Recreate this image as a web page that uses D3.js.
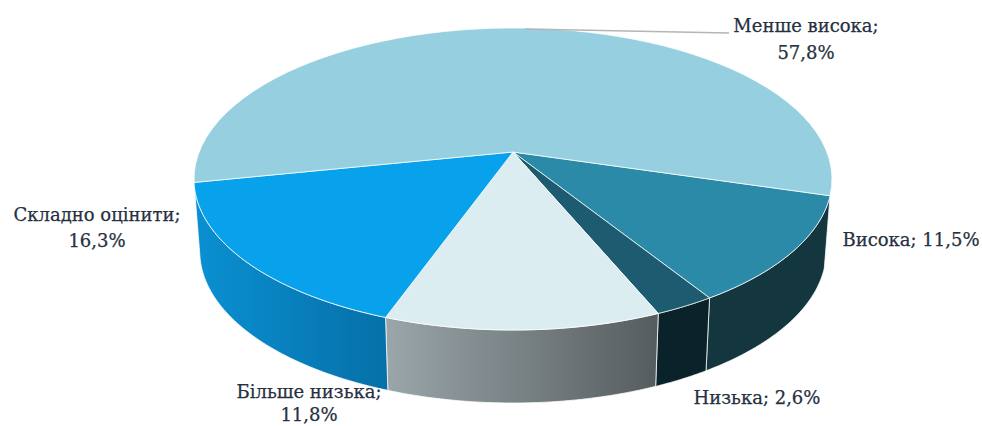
<!DOCTYPE html>
<html><head><meta charset="utf-8">
<script src="https://cdn.jsdelivr.net/npm/d3@7/dist/d3.min.js"></script>
<style>html,body{margin:0;padding:0;background:#fff;overflow:hidden}svg{display:block}
text{font-family:"DejaVu Serif",serif;font-size:18px;fill:#26303f;stroke:#26303f;stroke-width:.25px;text-anchor:middle}</style>
</head><body><svg id="c" width="982" height="426"></svg>
<script>
const categories = ["Висока","Низька","Більше низька","Складно оцінити","Менше висока"];
const values = [11.5,2.6,11.8,16.3,57.8];
const valueLabels = ["11,5%","2,6%","11,8%","16,3%","57,8%"];
const topColors = ["#2b8aa8","#1d5c70","#dcedf2","#08a2ec","#95cfe0"];
const sideFrom = ["#13363f","#0a2229","#565c5e","#0670a8","#95cfe0"];
const sideTo = ["#13363f","#0a2229","#9aa6aa","#0a90d2","#95cfe0"];
const labelLines = [
  [[911,246,"Висока; 11,5%"]],
  [[757,404,"Низька; 2,6%"]],
  [[309,398,"Більше низька;"],[309,421,"11,8%"]],
  [[97,221,"Складно оцінити;"],[97,247,"16,3%"]],
  [[806,32,"Менше висока;"],[806,59,"57,8%"]]
];

const svg = d3.select("#c");
const cx=513, apexY=152, backY=28, frontY=330, rx=319;
// homography: Y=(b+a v)/(1+k v), X=K u/(1+k v)
const b=apexY;
const k=((apexY-backY)-(frontY-apexY))/(frontY-backY);
const a=(apexY-backY)+backY*k;
const K=rx*Math.sqrt(1-k*k);
const depthScale=0.982, depthBase=72, depthGrow=1;
function topPt(t){const u=Math.cos(t),v=Math.sin(t),w=1+k*v;return [cx+K*u/w,(b+a*v)/w];}
function botPt(t){const p=topPt(t),v=Math.sin(t);return [cx+(p[0]-cx)*depthScale,p[1]+depthBase+depthGrow*Math.max(0,v)];}

const startDeg=16.5;
const pie=d3.pie().sort(null).value(d=>d).startAngle(startDeg*Math.PI/180).endAngle((startDeg+360)*Math.PI/180);
const arcs=pie(values);
const line=d3.line();
const samples=(s,e)=>d3.range(0,61).map(i=>s+(e-s)*i/60);

const defs=svg.append("defs");
arcs.forEach((d,i)=>{
  const ps=samples(d.startAngle,d.endAngle).map(topPt);
  const xs=d3.extent(ps,p=>p[0]);
  const g=defs.append("linearGradient").attr("id","g"+i).attr("gradientUnits","userSpaceOnUse")
    .attr("x1",xs[1]).attr("x2",xs[0]).attr("y1",0).attr("y2",0);
  g.append("stop").attr("offset",0).attr("stop-color",sideFrom[i]);
  g.append("stop").attr("offset",1).attr("stop-color",sideTo[i]);
});

arcs.forEach((d,i)=>{
  if(Math.sin((d.startAngle+d.endAngle)/2)<=0) return;
  const ts=samples(d.startAngle,d.endAngle);
  svg.append("path").attr("d",line(ts.map(topPt).concat(ts.slice().reverse().map(botPt)))+"Z")
    .attr("fill","url(#g"+i+")").attr("stroke","#fff").attr("stroke-opacity",.75).attr("stroke-width",1).attr("stroke-linejoin","round");
});
arcs.forEach((d,i)=>{
  const ts=samples(d.startAngle,d.endAngle);
  svg.append("path").attr("d",line([[cx,apexY]].concat(ts.map(topPt)))+"Z")
    .attr("fill",topColors[i]).attr("stroke","#fff").attr("stroke-opacity",.75).attr("stroke-width",1).attr("stroke-linejoin","round");
});
svg.append("path").attr("d",line([[525,29],[729,33]])).attr("stroke","#b5b5b5").attr("stroke-width",1.3).attr("fill","none");
labelLines.forEach(ls=>ls.forEach(l=>svg.append("text").attr("x",l[0]).attr("y",l[1]).text(l[2])));
</script></body></html>
